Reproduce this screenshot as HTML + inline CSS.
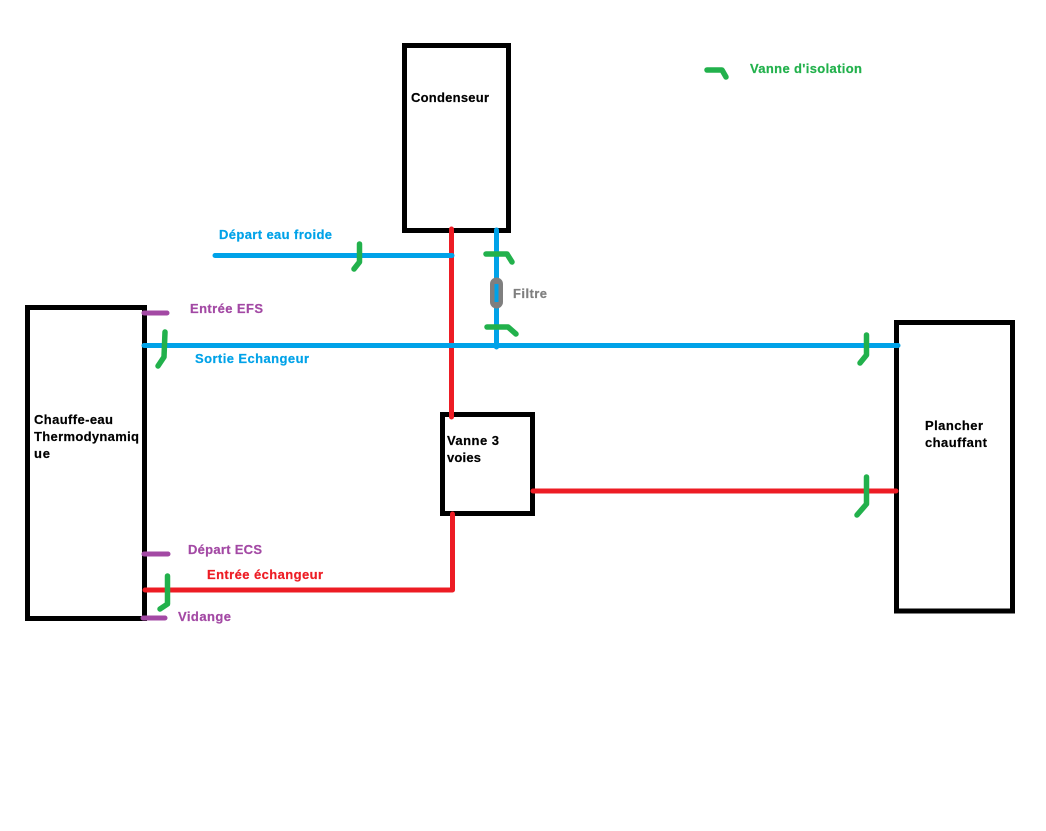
<!DOCTYPE html>
<html><head><meta charset="utf-8"><style>
html,body{margin:0;padding:0;background:#fff;width:1046px;height:831px;overflow:hidden}
svg{display:block}
text{font-family:"Liberation Sans",sans-serif;font-weight:bold;font-size:13px;stroke-width:.2px}
</style></head><body>
<svg width="1046" height="831" viewBox="0 0 1046 831" xmlns="http://www.w3.org/2000/svg">
<rect width="1046" height="831" fill="#fff"/>
<g fill="none" stroke="#000" stroke-width="5">
<rect x="404.500" y="45.500" width="104" height="185"/>
<rect x="27.500" y="307.500" width="117" height="311"/>
<rect x="896.500" y="322.500" width="116" height="288.500"/>
<rect x="442.500" y="414.500" width="90" height="99"/>
</g>
<g fill="none" stroke-width="5" stroke-linecap="round" stroke-linejoin="round">
<g stroke="#ed1c24">
<path d="M451.500 229V417"/>
<path d="M145 590H452.500V514"/>
<path d="M533 491H896"/>
</g>
<g stroke="#00a2e8">
<path d="M215 255.500H452"/>
<path d="M496.500 230V347"/>
<path d="M144 345.500H898"/>
</g>
</g>
<path d="M496.500 284V302" stroke="#7f7f7f" stroke-width="13" stroke-linecap="round" fill="none"/>
<path d="M496.500 284V302" stroke="#00a2e8" stroke-width="4" fill="none"/>
<g fill="none" stroke="#a349a4" stroke-width="5" stroke-linecap="round">
<path d="M144 313H167"/>
<path d="M144 554H168"/>
<path d="M143 618H165"/>
</g>
<g fill="none" stroke="#22b14c" stroke-width="5.500" stroke-linecap="round" stroke-linejoin="round">
<path d="M707 70H722L726 77"/>
<path d="M486 254H507L512 262"/>
<path d="M487 327H508L516 334"/>
<path d="M359.500 244V262L354 269"/>
<path d="M165 332L164 357L158 366"/>
<path d="M167.500 576V604L160 609"/>
<path d="M866.500 335V355L860 363"/>
<path d="M866.500 477V504L857 515"/>
</g>
<g fill="#22b14c" stroke="#22b14c"><text x="750" y="73" textLength="112">Vanne d'isolation</text></g>
<g fill="#000" stroke="#000">
<text x="411" y="102" textLength="78">Condenseur</text>
<text x="34" y="424" textLength="79">Chauffe-eau</text>
<text x="34" y="441" textLength="105">Thermodynamiq</text>
<text x="34" y="458" textLength="16">ue</text>
<text x="447" y="445" textLength="52">Vanne 3</text>
<text x="447" y="462" textLength="34">voies</text>
<text x="925" y="430" textLength="58">Plancher</text>
<text x="925" y="447" textLength="62">chauffant</text>
</g>
<g fill="#00a2e8" stroke="#00a2e8">
<text x="219" y="239" textLength="113">Départ eau froide</text>
<text x="195" y="363" textLength="114">Sortie Echangeur</text>
</g>
<g fill="#7f7f7f" stroke="#7f7f7f"><text x="513" y="298" textLength="34">Filtre</text></g>
<g fill="#a349a4" stroke="#a349a4">
<text x="190" y="313" textLength="73">Entrée EFS</text>
<text x="188" y="554" textLength="74">Départ ECS</text>
<text x="178" y="621" textLength="53">Vidange</text>
</g>
<g fill="#ed1c24" stroke="#ed1c24"><text x="207" y="579" textLength="116">Entrée échangeur</text></g>
</svg>
</body></html>
